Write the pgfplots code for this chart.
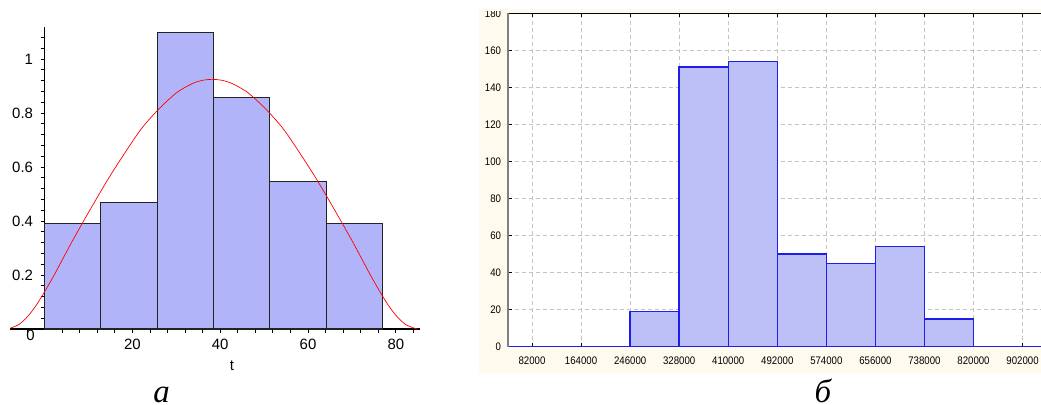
\documentclass[border=0pt]{standalone}
\usepackage{pgfplots}
\pgfplotsset{compat=1.18}
\usepackage{fontspec}
\setmainfont{Liberation Sans}
\newfontfamily\cyrserif{Liberation Serif}
\newfontfamily\narrowsans[FakeStretch=0.88]{Liberation Sans}
\definecolor{lbar}{RGB}{178,180,250}
\definecolor{ledge}{RGB}{35,35,35}
\definecolor{rbar}{RGB}{188,192,246}
\definecolor{redge}{RGB}{30,30,235}
\definecolor{beige}{RGB}{255,250,238}
\definecolor{gridgray}{RGB}{195,195,195}
\begin{document}
\begin{tikzpicture}
\path[use as bounding box] (0,0) rectangle (1041bp,405bp);
\fill[beige] (479bp,32bp) rectangle (1041bp,395.7bp);
% ---------- left chart ----------
\begin{axis}[
  at={(10bp,76bp)}, anchor=south west,
  scale only axis, width=410bp, height=302.3bp,
  xmin=-7.86, xmax=85.5, ymin=0, ymax=1.12,
  axis lines*=middle,
  axis line style={black, line width=1.1bp},
  xtick={20,40,60,80}, ytick={0.2,0.4,0.6,0.8,1},
  minor xtick={-4,4,8,12,16,24,28,32,36,44,48,52,56,64,68,72,76,84},
  minor ytick={0.04,0.08,0.12,0.16,0.24,0.28,0.32,0.36,0.44,0.48,0.52,0.56,0.64,0.68,0.72,0.76,0.84,0.88,0.92,0.96,1.04,1.08},
  tick align=outside,
  major tick length=4bp, minor tick length=4bp,
  tick style={black, line width=0.8bp},
  /pgf/number format/assume math mode=true,
  yticklabel style={/pgf/number format/fixed},
  ticklabel style={font=\fontsize{15}{18}\selectfont},
  xticklabel shift=3bp, yticklabel shift=4bp,
  clip=false,
]
\addplot[ybar interval, fill=lbar, draw=ledge, line width=1.1bp] coordinates {
  (0,0.39) (12.83,0.468) (25.66,1.10) (38.49,0.858) (51.32,0.546) (64.15,0.39) (76.98,0.39)};
\addplot[red, line width=0.7bp, smooth] coordinates {
  (-7.8,0.003) (-5.8,0.017) (-3.8,0.047) (-1.8,0.090) (0.2,0.143) (2.2,0.200)
  (4.2,0.261) (6.2,0.322) (8.2,0.380) (10.2,0.437) (12.2,0.493) (14.2,0.548)
  (16.2,0.600) (18.2,0.650) (20.2,0.699) (22.2,0.745) (24.2,0.783) (26.2,0.818)
  (28.2,0.849) (30.2,0.877) (32.2,0.897) (34.2,0.913) (36.2,0.922) (38.2,0.925)
  (40.2,0.922) (42.2,0.913) (44.2,0.897) (46.2,0.877) (48.2,0.849) (50.2,0.818)
  (52.2,0.783) (54.2,0.745) (56.2,0.699) (58.2,0.650) (60.2,0.600) (62.2,0.548)
  (64.2,0.493) (66.2,0.437) (68.2,0.380) (70.2,0.322) (72.2,0.261) (74.2,0.200)
  (76.2,0.143) (78.2,0.090) (80.2,0.047) (82.2,0.017) (84.2,0.003) (85.0,0.0)};
\end{axis}
\node[font=\fontsize{15}{18}\selectfont, anchor=north east, inner sep=0pt] at (35bp,75bp) {0};
\node[font=\fontsize{15}{18}\selectfont, anchor=base] at (232bp,35bp) {t};
\node[font=\cyrserif\itshape\fontsize{33}{38}\selectfont, anchor=base, inner sep=0pt] at (161.7bp,2.5bp) {а};
% ---------- right chart ----------
\begin{axis}[
  at={(507.5bp,58.3bp)}, anchor=south west,
  scale only axis, width=539.6bp, height=333.4bp,
  xmin=41000, xmax=943000, ymin=0, ymax=180,
  xtick={82000,164000,246000,328000,410000,492000,574000,656000,738000,820000,902000},
  ytick={0,20,40,60,80,100,120,140,160,180},
  grid=major, grid style={gridgray, dash pattern=on 4bp off 3bp, line width=0.7bp},
  axis background/.style={fill=white},
  axis line style={black, line width=1bp},
  scaled x ticks=false,
  /pgf/number format/assume math mode=true,
  xticklabel style={/pgf/number format/.cd, fixed, 1000 sep={}},
  ticklabel style={font=\narrowsans\fontsize{11}{13}\selectfont},
  tick align=inside, xtick pos=both, ytick pos=left,
  major tick length=4bp, tick style={black, line width=0.8bp},
  xticklabel shift=7bp, yticklabel shift=3bp,
]
\addplot[ybar interval, fill=rbar, draw=redge, line width=1.4bp] coordinates {
  (41000,0) (82000,0) (164000,0) (246000,19) (328000,151) (410000,154) (492000,50)
  (574000,45) (656000,54) (738000,15) (820000,0) (902000,0) (943000,0)};
\end{axis}
\draw[gray, line width=2bp] (507.5bp,58.3bp) -- (507.5bp,391.7bp);
\fill[white] (470bp,395.7bp) rectangle (1041bp,405bp);
\fill[beige] (479bp,393.8bp) rectangle (505bp,395.7bp);
\node[font=\cyrserif\itshape\fontsize{33}{38}\selectfont, anchor=base, inner sep=0pt] at (823bp,2.5bp) {б};
\end{tikzpicture}
\end{document}
